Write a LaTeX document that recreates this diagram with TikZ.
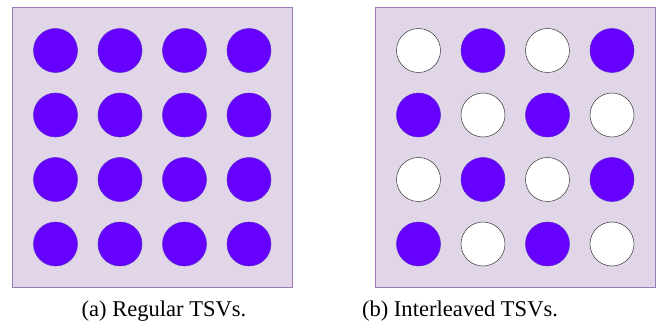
\documentclass[tikz,border=0pt]{standalone}
\usepackage{fontspec}
\setmainfont{Liberation Serif}
\begin{document}
\begin{tikzpicture}[x=0.75pt,y=0.75pt,yscale=-1,xscale=1]
\useasboundingbox (0,0) rectangle (661,329); %set diagram left start at 0, and has height of 329

%Shape: Rectangle [id:boxregular] 
\draw  [color={rgb, 255:red, 155; green, 123; blue, 181 }  ,draw opacity=1 ][fill={rgb, 255:red, 224; green, 214; blue, 232 }  ,fill opacity=1 ][line width=0.75]  (12.5,7.5) -- (292.5,7.5) -- (292.5,287.5) -- (12.5,287.5) -- cycle ;
%Shape: Rectangle [id:boxinterleaved] 
\draw  [color={rgb, 255:red, 155; green, 123; blue, 181 }  ,draw opacity=1 ][fill={rgb, 255:red, 224; green, 214; blue, 232 }  ,fill opacity=1 ][line width=0.75]  (375.5,7.5) -- (655.5,7.5) -- (655.5,287.5) -- (375.5,287.5) -- cycle ;

%Shape: Circle [id:regular row 1] 
\draw  [color={rgb, 255:red, 90; green, 40; blue, 210 }  ][fill={rgb, 255:red, 102; green, 0; blue, 255 }  ,fill opacity=1 ] (55.5,50.5) circle (22) ;
\draw  [color={rgb, 255:red, 90; green, 40; blue, 210 }  ][fill={rgb, 255:red, 102; green, 0; blue, 255 }  ,fill opacity=1 ] (120,50.5) circle (22) ;
\draw  [color={rgb, 255:red, 90; green, 40; blue, 210 }  ][fill={rgb, 255:red, 102; green, 0; blue, 255 }  ,fill opacity=1 ] (184.5,50.5) circle (22) ;
\draw  [color={rgb, 255:red, 90; green, 40; blue, 210 }  ][fill={rgb, 255:red, 102; green, 0; blue, 255 }  ,fill opacity=1 ] (249,50.5) circle (22) ;
%Shape: Circle [id:regular row 2] 
\draw  [color={rgb, 255:red, 90; green, 40; blue, 210 }  ][fill={rgb, 255:red, 102; green, 0; blue, 255 }  ,fill opacity=1 ] (55.5,115) circle (22) ;
\draw  [color={rgb, 255:red, 90; green, 40; blue, 210 }  ][fill={rgb, 255:red, 102; green, 0; blue, 255 }  ,fill opacity=1 ] (120,115) circle (22) ;
\draw  [color={rgb, 255:red, 90; green, 40; blue, 210 }  ][fill={rgb, 255:red, 102; green, 0; blue, 255 }  ,fill opacity=1 ] (184.5,115) circle (22) ;
\draw  [color={rgb, 255:red, 90; green, 40; blue, 210 }  ][fill={rgb, 255:red, 102; green, 0; blue, 255 }  ,fill opacity=1 ] (249,115) circle (22) ;
%Shape: Circle [id:regular row 3] 
\draw  [color={rgb, 255:red, 90; green, 40; blue, 210 }  ][fill={rgb, 255:red, 102; green, 0; blue, 255 }  ,fill opacity=1 ] (55.5,179.5) circle (22) ;
\draw  [color={rgb, 255:red, 90; green, 40; blue, 210 }  ][fill={rgb, 255:red, 102; green, 0; blue, 255 }  ,fill opacity=1 ] (120,179.5) circle (22) ;
\draw  [color={rgb, 255:red, 90; green, 40; blue, 210 }  ][fill={rgb, 255:red, 102; green, 0; blue, 255 }  ,fill opacity=1 ] (184.5,179.5) circle (22) ;
\draw  [color={rgb, 255:red, 90; green, 40; blue, 210 }  ][fill={rgb, 255:red, 102; green, 0; blue, 255 }  ,fill opacity=1 ] (249,179.5) circle (22) ;
%Shape: Circle [id:regular row 4] 
\draw  [color={rgb, 255:red, 90; green, 40; blue, 210 }  ][fill={rgb, 255:red, 102; green, 0; blue, 255 }  ,fill opacity=1 ] (55.5,244) circle (22) ;
\draw  [color={rgb, 255:red, 90; green, 40; blue, 210 }  ][fill={rgb, 255:red, 102; green, 0; blue, 255 }  ,fill opacity=1 ] (120,244) circle (22) ;
\draw  [color={rgb, 255:red, 90; green, 40; blue, 210 }  ][fill={rgb, 255:red, 102; green, 0; blue, 255 }  ,fill opacity=1 ] (184.5,244) circle (22) ;
\draw  [color={rgb, 255:red, 90; green, 40; blue, 210 }  ][fill={rgb, 255:red, 102; green, 0; blue, 255 }  ,fill opacity=1 ] (249,244) circle (22) ;

%Shape: Circle [id:interleaved row 1] 
\draw  [color={rgb, 255:red, 60; green, 60; blue, 60 }  ][fill={rgb, 255:red, 255; green, 255; blue, 255 }  ,fill opacity=1 ] (418.5,50.5) circle (22) ;
\draw  [color={rgb, 255:red, 90; green, 40; blue, 210 }  ][fill={rgb, 255:red, 102; green, 0; blue, 255 }  ,fill opacity=1 ] (483,50.5) circle (22) ;
\draw  [color={rgb, 255:red, 60; green, 60; blue, 60 }  ][fill={rgb, 255:red, 255; green, 255; blue, 255 }  ,fill opacity=1 ] (547.5,50.5) circle (22) ;
\draw  [color={rgb, 255:red, 90; green, 40; blue, 210 }  ][fill={rgb, 255:red, 102; green, 0; blue, 255 }  ,fill opacity=1 ] (612,50.5) circle (22) ;
%Shape: Circle [id:interleaved row 2] 
\draw  [color={rgb, 255:red, 90; green, 40; blue, 210 }  ][fill={rgb, 255:red, 102; green, 0; blue, 255 }  ,fill opacity=1 ] (418.5,115) circle (22) ;
\draw  [color={rgb, 255:red, 60; green, 60; blue, 60 }  ][fill={rgb, 255:red, 255; green, 255; blue, 255 }  ,fill opacity=1 ] (483,115) circle (22) ;
\draw  [color={rgb, 255:red, 90; green, 40; blue, 210 }  ][fill={rgb, 255:red, 102; green, 0; blue, 255 }  ,fill opacity=1 ] (547.5,115) circle (22) ;
\draw  [color={rgb, 255:red, 60; green, 60; blue, 60 }  ][fill={rgb, 255:red, 255; green, 255; blue, 255 }  ,fill opacity=1 ] (612,115) circle (22) ;
%Shape: Circle [id:interleaved row 3] 
\draw  [color={rgb, 255:red, 60; green, 60; blue, 60 }  ][fill={rgb, 255:red, 255; green, 255; blue, 255 }  ,fill opacity=1 ] (418.5,179.5) circle (22) ;
\draw  [color={rgb, 255:red, 90; green, 40; blue, 210 }  ][fill={rgb, 255:red, 102; green, 0; blue, 255 }  ,fill opacity=1 ] (483,179.5) circle (22) ;
\draw  [color={rgb, 255:red, 60; green, 60; blue, 60 }  ][fill={rgb, 255:red, 255; green, 255; blue, 255 }  ,fill opacity=1 ] (547.5,179.5) circle (22) ;
\draw  [color={rgb, 255:red, 90; green, 40; blue, 210 }  ][fill={rgb, 255:red, 102; green, 0; blue, 255 }  ,fill opacity=1 ] (612,179.5) circle (22) ;
%Shape: Circle [id:interleaved row 4] 
\draw  [color={rgb, 255:red, 90; green, 40; blue, 210 }  ][fill={rgb, 255:red, 102; green, 0; blue, 255 }  ,fill opacity=1 ] (418.5,244) circle (22) ;
\draw  [color={rgb, 255:red, 60; green, 60; blue, 60 }  ][fill={rgb, 255:red, 255; green, 255; blue, 255 }  ,fill opacity=1 ] (483,244) circle (22) ;
\draw  [color={rgb, 255:red, 90; green, 40; blue, 210 }  ][fill={rgb, 255:red, 102; green, 0; blue, 255 }  ,fill opacity=1 ] (547.5,244) circle (22) ;
\draw  [color={rgb, 255:red, 60; green, 60; blue, 60 }  ][fill={rgb, 255:red, 255; green, 255; blue, 255 }  ,fill opacity=1 ] (612,244) circle (22) ;

% Text Node
\draw (164,311) node  [font=\fontsize{16.9}{20}\selectfont] (capregular) {(a) Regular TSVs.};
% Text Node
\draw (460,311) node  [font=\fontsize{16.9}{20}\selectfont] (capinterleaved) {(b) Interleaved TSVs.};


\end{tikzpicture}
\end{document}
